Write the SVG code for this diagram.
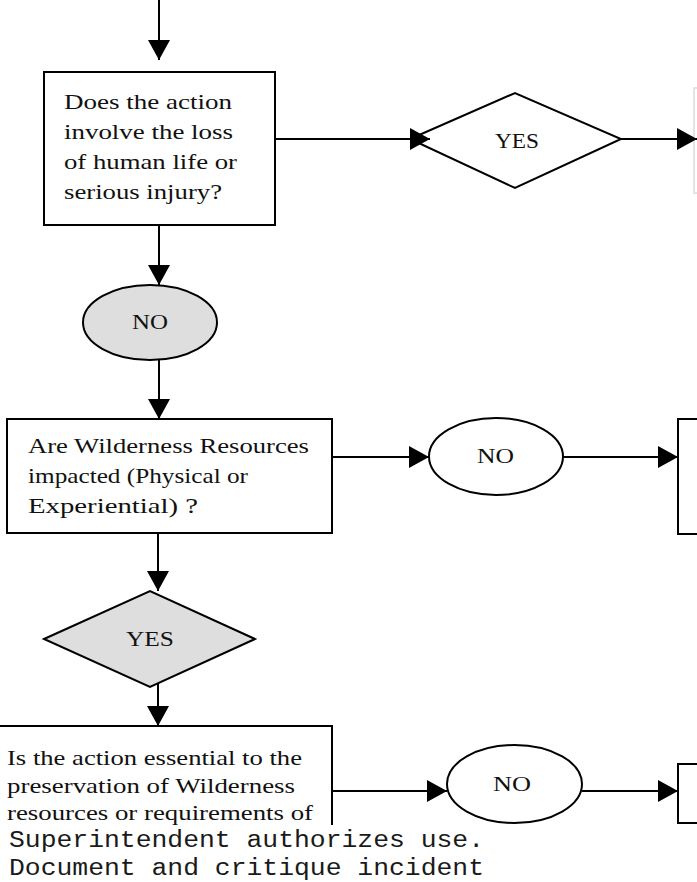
<svg xmlns="http://www.w3.org/2000/svg" width="697" height="882" viewBox="0 0 697 882">
<style>
  .box{fill:#ffffff;stroke:#000000;stroke-width:2}
  .gray{fill:#dedede;stroke:#000000;stroke-width:2}
  .edge{fill:none;stroke:#000000;stroke-width:2}
  .faint{fill:none;stroke:#e4e4e4;stroke-width:2}
  .t{font-family:"Liberation Serif","Times New Roman",serif;font-size:21px;fill:#111111}
  .m{font-family:"Liberation Mono","Courier New",monospace;font-size:23px;fill:#1a1a1a}
</style>
<defs>
  <marker id="arr" viewBox="0 0 20 22" refX="20" refY="11" markerWidth="20" markerHeight="22" markerUnits="userSpaceOnUse" orient="auto">
    <path d="M0,0 L20,11 L0,22 z" fill="#000000"/>
  </marker>
</defs>
<rect width="697" height="882" fill="#ffffff"/>

<g id="q1">
  <rect class="box" x="44" y="72" width="231" height="153"/>
  <text class="t" x="64" y="109" textLength="168" lengthAdjust="spacingAndGlyphs">Does the action</text>
  <text class="t" x="64" y="139" textLength="169" lengthAdjust="spacingAndGlyphs">involve the loss</text>
  <text class="t" x="64" y="169" textLength="173" lengthAdjust="spacingAndGlyphs">of human life or</text>
  <text class="t" x="64" y="199" textLength="158" lengthAdjust="spacingAndGlyphs">serious injury?</text>
</g>

<g id="yes1">
  <polygon class="box" points="410,139 515,93 621,139 515,188"/>
  <text class="t" x="495" y="148" textLength="44" lengthAdjust="spacingAndGlyphs">YES</text>
</g>

<g id="top-right-target">
  <path class="faint" d="M697,88 H694 V193 H697"/>
</g>

<g id="no1">
  <ellipse class="gray" cx="150" cy="322.5" rx="67" ry="37.5"/>
  <text class="t" x="132" y="329" textLength="36" lengthAdjust="spacingAndGlyphs">NO</text>
</g>

<g id="q2">
  <rect class="box" x="7" y="419" width="325" height="114"/>
  <text class="t" x="28" y="453" textLength="281" lengthAdjust="spacingAndGlyphs">Are Wilderness Resources</text>
  <text class="t" x="28" y="483" textLength="220" lengthAdjust="spacingAndGlyphs">impacted (Physical or</text>
  <text class="t" x="28" y="513" textLength="170" lengthAdjust="spacingAndGlyphs">Experiential) ?</text>
</g>

<g id="no2">
  <ellipse class="box" cx="496" cy="456.5" rx="67" ry="38.5"/>
  <text class="t" x="477" y="463" textLength="37" lengthAdjust="spacingAndGlyphs">NO</text>
</g>

<g id="q2-target">
  <path class="box" d="M700,419 H678 V534 H700"/>
</g>

<g id="yes2">
  <polygon class="gray" points="44,639 150,591 255,639 150,687"/>
  <text class="t" x="126" y="646" textLength="48" lengthAdjust="spacingAndGlyphs">YES</text>
</g>

<g id="q3">
  <path class="edge" d="M-2,726 H332 V825"/>
  <text class="t" x="7" y="765" textLength="295" lengthAdjust="spacingAndGlyphs">Is the action essential to the</text>
  <text class="t" x="7" y="793" textLength="288" lengthAdjust="spacingAndGlyphs">preservation of Wilderness</text>
  <text class="t" x="7" y="820" textLength="306" lengthAdjust="spacingAndGlyphs">resources or requirements of</text>
</g>

<g id="no3">
  <ellipse class="box" cx="514.5" cy="784" rx="67.5" ry="39"/>
  <text class="t" x="493" y="791" textLength="38" lengthAdjust="spacingAndGlyphs">NO</text>
</g>

<g id="q3-target">
  <path class="box" d="M700,764 H678 V823 H700"/>
</g>

<g id="note">
  <text class="m" x="9" y="847" textLength="475" lengthAdjust="spacingAndGlyphs">Superintendent authorizes use.</text>
  <text class="m" x="9" y="875" textLength="475" lengthAdjust="spacingAndGlyphs">Document and critique incident</text>
</g>

<g id="connectors">
  <line class="edge" x1="159" y1="0" x2="159" y2="60" marker-end="url(#arr)"/>
  <line class="edge" x1="275" y1="139" x2="430" y2="139" marker-end="url(#arr)"/>
  <line class="edge" x1="621" y1="139" x2="697" y2="139" marker-end="url(#arr)"/>
  <line class="edge" x1="159" y1="225" x2="159" y2="285" marker-end="url(#arr)"/>
  <line class="edge" x1="159" y1="360" x2="159" y2="419" marker-end="url(#arr)"/>
  <line class="edge" x1="332" y1="457" x2="429" y2="457" marker-end="url(#arr)"/>
  <line class="edge" x1="563" y1="457" x2="678" y2="457" marker-end="url(#arr)"/>
  <line class="edge" x1="158" y1="533" x2="158" y2="591" marker-end="url(#arr)"/>
  <line class="edge" x1="158" y1="684" x2="158" y2="726" marker-end="url(#arr)"/>
  <line class="edge" x1="332" y1="791" x2="447" y2="791" marker-end="url(#arr)"/>
  <line class="edge" x1="582" y1="791" x2="678" y2="791" marker-end="url(#arr)"/>
</g>
</svg>
